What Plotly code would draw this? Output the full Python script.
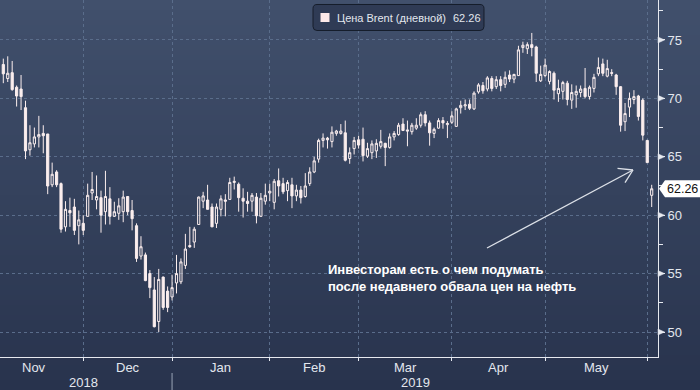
import numpy as np
import pandas as pd
import plotly.graph_objects as go

# ---------------- data ----------------
holidays = ["2018-12-25", "2019-01-01", "2019-04-19"]
dates = pd.bdate_range("2018-11-06", "2019-06-03")
dates = dates[~dates.isin(pd.to_datetime(holidays))]

open_ = [72.9, 71.7, 72.2, 70.95, 70.8, 69.2, 65.6, 66.1, 66.7, 67.0,
         66.95, 62.6, 63.7, 62.7, 59.0, 60.4, 60.7, 59.1, 59.3,
         59.9, 61.9, 61.3, 61.5, 60.3, 61.4, 59.9, 60.16, 60.3, 61.6,
         60.4, 59.1, 56.5, 56.6, 55.0, 53.6, 50.9, 54.7, 53.5, 53.0,
         54.2, 54.3, 55.7, 57.4, 57.7, 59.2, 61.2, 61.3, 60.7, 59.3,
         60.5, 61.3, 61.35, 62.8, 62.65, 61.45, 61.2, 61.2, 61.55, 59.9,
         61.2, 61.9,
         61.1, 62.95, 62.7, 62.1, 62.6, 61.65, 62.15, 61.6, 62.7, 63.7,
         64.8, 66.4, 66.6, 66.3, 67.0, 67.0, 67.05, 64.85, 65.7, 66.45,
         66.5, 65.05, 65.35, 65.5, 65.9, 66.15, 65.8, 66.7, 66.9, 67.8,
         67.3, 67.15, 67.45, 67.7, 68.6, 67.9, 67.0, 67.45, 68.1, 67.75,
         67.95,
         67.6, 69.2, 69.35, 69.5, 69.1, 70.55, 71.1, 70.8, 71.7, 71.0,
         71.6, 71.2, 72.0, 71.65, 71.95, 74.35, 74.25, 74.6, 74.4, 71.5,
         71.95,
         71.45, 72.15, 70.4, 70.6, 71.3, 69.85, 70.3, 70.5, 70.85, 70.15,
         70.85, 72.1, 72.95, 71.9, 72.2, 72.0, 71.0, 68.0, 69.25, 69.9,
         70.2, 69.85, 66.4,
         61.7]
high = [73.4, 73.6, 73.2, 71.1, 72.0, 69.8, 67.7, 67.5, 68.5, 67.7,
        66.95, 64.5, 63.85, 62.8, 61.2, 61.5, 61.4, 60.4, 60.0,
        62.7, 63.7, 63.4, 62.1, 63.8, 62.4, 61.15, 61.45, 62.1, 61.6,
        61.3, 59.3, 58.2, 56.8, 55.3, 54.7, 55.4, 54.75, 53.9, 54.9,
        56.6, 56.3, 58.4, 59.0, 59.0, 61.6, 62.0, 62.6, 61.0, 61.0,
        61.7, 61.8, 63.2, 63.3, 62.8, 62.3, 62.0, 61.9, 61.9, 61.9,
        62.7, 62.7,
        63.1, 64.0, 63.2, 63.0, 63.2, 62.6, 62.5, 63.6, 64.1, 65.0,
        66.55, 67.0, 66.7, 67.6, 67.3, 67.8, 68.1, 65.8, 66.7, 66.8,
        67.5, 66.2, 66.4, 66.5, 67.3, 66.2, 67.0, 67.2, 67.9, 68.3,
        68.1, 67.9, 68.3, 68.8, 68.9, 68.1, 67.5, 68.3, 68.4, 68.05,
        68.9,
        69.2, 69.8, 69.9, 69.9, 70.6, 71.3, 71.4, 71.9, 71.9, 71.9,
        71.9, 72.3, 72.4, 72.1, 74.5, 74.85, 74.8, 75.6, 74.5, 72.8,
        73.4,
        72.4, 72.3, 71.6, 71.5, 71.5, 71.2, 71.1, 71.1, 72.6, 71.1,
        72.1, 73.5, 73.4, 73.3, 72.5, 72.1, 71.05, 69.6, 70.5, 70.7,
        70.3, 70.0, 66.45,
        62.6]
low = [71.3, 71.4, 70.65, 69.3, 69.0, 64.8, 65.1, 65.8, 65.8, 65.3,
       61.8, 62.4, 62.4, 58.5, 58.6, 59.0, 58.3, 57.5, 58.3,
       59.9, 61.3, 60.5, 58.5, 59.2, 59.2, 59.85, 59.6, 59.4, 60.0,
       58.7, 56.0, 56.2, 54.35, 52.9, 50.4, 50.0, 51.9, 51.7, 52.7,
       53.3, 54.1, 55.4, 57.2, 57.2, 59.2, 60.6, 60.5, 59.0, 58.9,
       59.9, 59.9, 61.3, 62.2, 60.3, 59.8, 60.3, 60.3, 59.3, 59.9,
       60.9, 61.2,
       60.5, 61.6, 61.8, 61.2, 60.6, 61.2, 61.0, 61.5, 62.5, 63.6,
       64.5, 65.8, 65.7, 65.8, 66.8, 66.9, 64.6, 64.4, 65.2, 65.7,
       64.6, 64.9, 64.8, 64.9, 65.7, 64.2, 65.7, 66.4, 66.8, 67.2,
       65.9, 66.9, 67.3, 67.5, 67.6, 65.95, 66.6, 67.4, 67.4, 66.6,
       67.8,
       67.6, 68.7, 69.0, 69.0, 69.0, 70.4, 70.4, 70.6, 70.6, 70.8,
       70.6, 70.9, 71.4, 71.3, 71.95, 73.9, 73.8, 73.6, 71.4, 71.4,
       71.8,
       71.2, 69.9, 69.7, 69.9, 69.4, 69.1, 69.2, 70.1, 70.0, 69.9,
       70.5, 71.9, 71.9, 71.8, 71.9, 70.3, 67.15, 67.2, 68.4, 69.5,
       68.1, 66.4, 64.5,
       60.7]
close = [72.1, 72.15, 70.75, 70.2, 70.15, 65.5, 66.2, 66.7, 66.9, 66.8,
         62.5, 63.5, 62.6, 58.8, 60.5, 60.2, 58.7, 59.6, 58.7,
         61.7, 62.2, 61.6, 60.0, 61.6, 59.9, 60.3, 60.8, 61.55, 60.3,
         59.7, 56.3, 57.3, 54.4, 53.8, 50.45, 54.5, 52.1, 52.1, 53.8,
         55.0, 56.0, 57.1, 57.3, 58.8, 61.55, 61.65, 60.5, 59.0, 60.7,
         61.4, 61.2, 62.8, 62.9, 61.5, 61.2, 61.0, 61.7, 59.95, 61.45,
         61.7, 62.05,
         62.9, 62.5, 62.0, 62.8, 61.65, 62.15, 61.5, 62.5, 63.7, 64.65,
         66.4, 66.6, 66.45, 67.1, 67.2, 67.2, 64.7, 65.35, 66.4, 66.0,
         65.1, 65.7, 66.1, 66.15, 66.3, 65.8, 66.7, 67.0, 67.7, 67.25,
         67.2, 67.7, 67.7, 68.6, 67.9, 67.05, 67.35, 68.1, 67.9, 67.85,
         68.5,
         69.1, 69.4, 69.45, 69.15, 70.45, 71.15, 70.65, 71.75, 70.85, 71.6,
         71.1, 71.8, 71.65, 72.05, 74.15, 74.55, 74.6, 74.35, 72.15, 72.05,
         72.85,
         72.3, 70.7, 70.85, 71.35, 69.9, 70.5, 70.6, 70.8, 70.15, 70.95,
         71.8, 72.65, 72.15, 72.55, 72.15, 71.0, 67.7, 68.7, 70.0, 70.15,
         68.45, 66.85, 64.5,
         62.26]

month_labels = ["Nov", "Dec", "Jan", "Feb", "Mar", "Apr", "May"]
year_labels = ["2018", "2019"]
y_ticks = [50, 55, 60, 65, 70, 75]
y_minor = [52.5, 57.5, 62.5, 67.5, 72.5, 77.5]
series_name = "Цена Brent (дневной)"
note_text = "Инвесторам есть о чем подумать<br>после недавнего обвала цен на нефть"

# ---------------- geometry helpers ----------------
W, H = 700, 390
ML, MR, MT, MB = 0, 42, 0, 33
PW, PH = W - ML - MR, H - MT - MB


def px(xp):
    return (xp - ML) / PW


def py(yp):
    return 1 - (yp - MT) / PH


idx = np.arange(len(dates))
per = dates.to_period("M")
months = per.unique()
month_end = [int(idx[per == p].max()) for p in months]
grid_x = month_end[:len(month_labels)]
start_bound = -int(np.busday_count("2018-10-31", dates[0].date(), holidays=holidays))
bounds = [start_bound] + grid_x
label_x = [(bounds[k] + bounds[k + 1]) / 2 for k in range(len(month_labels))]

xr = [-0.743, len(dates) - 1 + 1.42]
yr = [47.86, 78.42]
year_end = int(idx[dates.year == 2018].max())
year_x = [(xr[0] + year_end) / 2 - 0.6, (year_end + xr[1]) / 2]

CANDLE = "#fbeeee"
TXT = "#e3e7ee"
AX = "#e6e9ef"
GRID = "#5a6d8b"

fig = go.Figure()
fig.add_trace(go.Candlestick(
    x=idx, open=open_, high=high, low=low, close=close,
    increasing=dict(line=dict(color=CANDLE, width=1), fillcolor="rgba(0,0,0,0)"),
    decreasing=dict(line=dict(color=CANDLE, width=1), fillcolor=CANDLE),
    whiskerwidth=0, showlegend=False, hoverinfo="skip", name=series_name,
))

shapes = []
# background gradient
top = np.array([65, 80, 108])
bot = np.array([40, 51, 77])
N = 78
for k in range(N):
    t = k / (N - 1)
    c = (top + (bot - top) * t).round().astype(int)
    y0 = k * H / N
    y1 = (k + 1) * H / N + 0.6
    shapes.append(dict(type="rect", xref="paper", yref="paper", layer="below",
                       x0=px(0), x1=px(W + 2), y0=py(y1), y1=py(y0),
                       fillcolor="rgb(%d,%d,%d)" % tuple(c), line=dict(width=0)))

# year separator
shapes.append(dict(type="line", xref="x", yref="paper", x0=year_end, x1=year_end,
                   y0=py(373), y1=py(H + 2), line=dict(color="#9aa5b6", width=1)))

# major y tick triangles
for v in y_ticks:
    hh = 3.0 / 11.68
    shapes.append(dict(type="path", xref="paper", yref="y",
                       path="M %f,%f L %f,%f L %f,%f Z" % (px(658), v + hh, px(664.5), v, px(658), v - hh),
                       fillcolor=AX, line=dict(color=AX, width=0.5)))

# legend box (rounded)
bx0, bx1, by0, by1, r = 313, 484, 4.5, 30.5, 4
path = ("M %f,%f L %f,%f Q %f,%f %f,%f L %f,%f Q %f,%f %f,%f L %f,%f Q %f,%f %f,%f L %f,%f Q %f,%f %f,%f Z" % (
    px(bx0 + r), py(by0), px(bx1 - r), py(by0), px(bx1), py(by0), px(bx1), py(by0 + r),
    px(bx1), py(by1 - r), px(bx1), py(by1), px(bx1 - r), py(by1),
    px(bx0 + r), py(by1), px(bx0), py(by1), px(bx0), py(by1 - r),
    px(bx0), py(by0 + r), px(bx0), py(by0), px(bx0 + r), py(by0)))
shapes.append(dict(type="path", xref="paper", yref="paper", path=path,
                   fillcolor="#2f3b55", line=dict(color="#161d2b", width=1)))
shapes.append(dict(type="rect", xref="paper", yref="paper",
                   x0=px(320.5), x1=px(329.5), y0=py(22), y1=py(13),
                   fillcolor="#fde9e9", line=dict(width=0)))

# arrow
ARW = "#dde1e8"
tail, tip = (487, 248), (633, 170)
for a, b in [(tail, tip), (tip, (617.5, 168.3)), (tip, (625, 182.7))]:
    shapes.append(dict(type="line", xref="paper", yref="paper",
                       x0=px(a[0]), y0=py(a[1]), x1=px(b[0]), y1=py(b[1]),
                       line=dict(color=ARW, width=1.3)))

# last price tag
last = close[-1]
hh = 8.5 / 11.68
shapes.append(dict(type="path", xref="paper", yref="y",
                   path="M %f,%f L %f,%f L %f,%f L %f,%f L %f,%f Z" % (
                       px(659), last, px(665), last + hh, px(702), last + hh,
                       px(702), last - hh, px(665), last - hh),
                   fillcolor="#ffffff", line=dict(width=0)))

ann = []
FONT = "Liberation Sans, Arial, sans-serif"
for lab, xv in zip(month_labels, label_x):
    ann.append(dict(x=xv, y=py(367.5), xref="x", yref="paper", text=lab, showarrow=False,
                    xanchor="center", yanchor="middle", font=dict(family=FONT, size=13, color=TXT)))
for lab, xv in zip(year_labels, year_x):
    ann.append(dict(x=xv, y=py(382.5), xref="x", yref="paper", text=lab, showarrow=False,
                    xanchor="center", yanchor="middle", font=dict(family=FONT, size=13, color=TXT)))
ann.append(dict(x=px(334.5), y=py(18), xref="paper", yref="paper", text=series_name, showarrow=False,
                xanchor="left", yanchor="middle", font=dict(family=FONT, size=11, color=TXT)))
ann.append(dict(x=px(451), y=py(18), xref="paper", yref="paper", text="%.2f" % last, showarrow=False,
                xanchor="left", yanchor="middle", font=dict(family=FONT, size=11, color=TXT)))
ann.append(dict(x=px(326), y=py(277.5), xref="paper", yref="paper", text="<b>%s</b>" % note_text,
                showarrow=False, xanchor="left", yanchor="middle", align="left",
                font=dict(family=FONT, size=13, color="#ffffff")))
ann.append(dict(x=px(682.5), y=last, xref="paper", yref="y", text="%.2f" % last, showarrow=False,
                xanchor="center", yanchor="middle", font=dict(family=FONT, size=12.5, color="#111111")))

fig.update_layout(
    width=W, height=H, autosize=False,
    margin=dict(l=ML, r=MR, t=MT, b=MB),
    paper_bgcolor="rgb(40,51,77)", plot_bgcolor="rgba(0,0,0,0)",
    shapes=shapes, annotations=ann, showlegend=False,
    xaxis=dict(range=xr, type="linear", rangeslider=dict(visible=False),
               tickmode="array", tickvals=grid_x, ticktext=[""] * len(grid_x),
               showgrid=True, gridcolor=GRID, griddash="dot", gridwidth=1,
               ticks="outside", ticklen=3, tickcolor=AX,
               showline=True, linecolor=AX, linewidth=1, zeroline=False, fixedrange=True),
    yaxis=dict(range=yr, side="right", tickmode="array", tickvals=y_ticks,
               showgrid=True, gridcolor=GRID, griddash="dot", gridwidth=1,
               ticks="outside", ticklen=6, tickcolor=AX,
               minor=dict(tickmode="array", tickvals=y_minor, ticks="outside", ticklen=4,
                          tickcolor=AX, showgrid=False),
               showline=True, linecolor=AX, linewidth=1, zeroline=False,
               tickfont=dict(family=FONT, size=13, color=TXT), fixedrange=True),
)

fig.write_html("out.html", config=dict(displayModeBar=False))
